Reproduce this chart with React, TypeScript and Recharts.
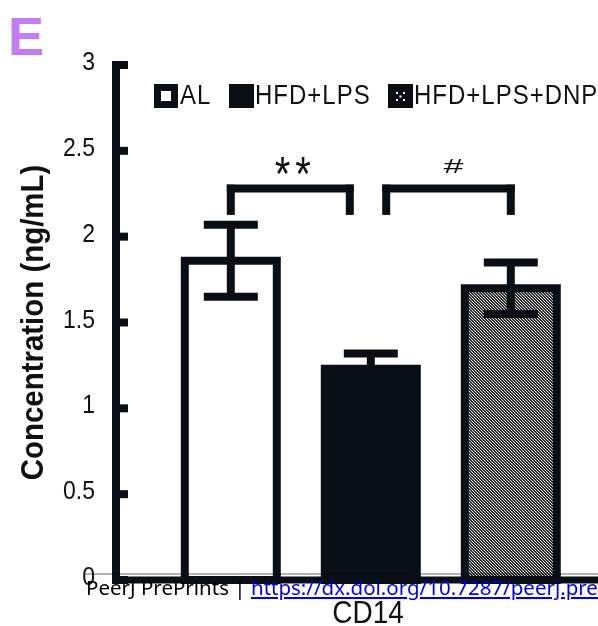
import React from 'react';
import { BarChart, Bar, XAxis, YAxis, ErrorBar, Cell, Legend, ReferenceLine } from 'recharts';

// groups, their slot on the x axis, mean and error
const groups = ['AL', 'HFD+LPS', 'HFD+LPS+DNP'];
const positions = [1, 2, 3];
const means = [1.86, 1.23, 1.7];
const errors = [0.21, 0.09, 0.15];
const yTicks = [0, 0.5, 1, 1.5, 2, 2.5, 3];
const marker = 'CD14';
const yTitle = 'Concentration (ng/mL)';

// significance brackets
const bracketStarts = [1, 2.11];
const bracketEnds = [1.85, 3];
const bracketLabels = ['**', '#'];
const bracketTop = 2.28;
const bracketFoot = 2.15;

const INK = '#0a0f15';
const SANS = '"Liberation Sans", Arial, sans-serif';
const fills = ['#ffffff', INK, 'url(#dots)'];

const rows = groups.map((name, i) => ({
  name,
  pos: positions[i],
  value: means[i],
  err: errors[i],
}));

const renderYTick = (props: any) => {
  const { x, y, payload } = props;
  return (
    <g>
      <line x1={x} x2={x + 12} y1={y} y2={y} stroke={INK} strokeWidth={8} />
      <g transform={`translate(${x - 21},${y + 5}) scale(1,1.15)`}>
        <text textAnchor="end" fontSize={23} fontFamily={SANS} fill="#111">
          {payload.value}
        </text>
      </g>
    </g>
  );
};

const renderYLabel = (props: any) => {
  const vb = props.viewBox;
  const cy = vb.y + vb.height / 2;
  return (
    <g transform={`translate(43,${cy}) rotate(-90) scale(0.95,1)`}>
      <text textAnchor="middle" fontSize={31} fontWeight="bold" fontFamily={SANS} fill="#111">
        {yTitle}
      </text>
    </g>
  );
};

const renderXLabel = (props: any) => {
  const vb = props.viewBox;
  const cx = vb.x + vb.width / 2;
  return (
    <g transform={`translate(${cx},623) scale(1,1.15)`}>
      <text textAnchor="middle" fontSize={28} fontFamily={SANS} fill="#111">
        {marker}
      </text>
    </g>
  );
};

const renderSig = (text: string) => (props: any) => {
  const vb = props.viewBox;
  const cx = vb.x + vb.width / 2;
  if (text === '#') {
    return (
      <g transform={`translate(${cx + 5},${vb.y - 16}) scale(1.8,1)`}>
        <text textAnchor="middle" fontSize={20} fontFamily={SANS} fill="#111">
          {text}
        </text>
      </g>
    );
  }
  return (
    <g transform={`translate(${cx + 5},${vb.y + 1}) scale(1,1.2)`}>
      <text textAnchor="middle" fontSize={40} letterSpacing={5} fontFamily={SANS} fill="#111">
        {text}
      </text>
    </g>
  );
};

const legendX = [154, 229, 388];

const renderLegend = () => (
  <svg width={620} height={120} style={{ display: 'block' }}>
    {groups.map((g, i) => {
      const x = legendX[i];
      let icon;
      if (i === 0) {
        icon = <rect x={x + 3.5} y={87.5} width={17} height={17} fill="#fff" stroke={INK} strokeWidth={7} />;
      } else if (i === 1) {
        icon = <rect x={x} y={84} width={25} height={24} fill={INK} />;
      } else {
        icon = (
          <g>
            <rect x={x} y={84} width={25} height={24} fill={INK} />
            <rect x={x + 8} y={92} width={2} height={2} fill="#fff" />
            <rect x={x + 15} y={92} width={2} height={2} fill="#fff" />
            <rect x={x + 11.5} y={95.5} width={2} height={2} fill="#fff" />
            <rect x={x + 8} y={99} width={2} height={2} fill="#fff" />
            <rect x={x + 15} y={99} width={2} height={2} fill="#fff" />
          </g>
        );
      }
      return (
        <g key={g}>
          {icon}
          <g transform={`translate(${x + 26},104) scale(1,1.18)`}>
            <text fontSize={24} letterSpacing={1} fontFamily={SANS} fill="#111">
              {g}
            </text>
          </g>
        </g>
      );
    })}
  </svg>
);

export default function App() {
  return (
    <div
      style={{
        position: 'absolute',
        left: 0,
        top: 0,
        width: 598,
        height: 626,
        overflow: 'hidden',
        background: '#fff',
      }}
    >
      <BarChart width={620} height={626} data={rows} margin={{ top: 65, right: 0, bottom: 0, left: 0 }}>
        <defs>
          <pattern id="dots" x={0} y={0} width={3} height={3} patternUnits="userSpaceOnUse">
            <rect width={3} height={3} fill="#2a2a2a" />
            <rect x={1} y={1} width={1} height={1} fill="#fff" />
            <rect x={0} y={0} width={1} height={1} fill="#e8e8e8" />
            <rect x={2} y={2} width={1} height={1} fill="#d0d0d0" />
          </pattern>
        </defs>
        <YAxis
          domain={[0, 3]}
          ticks={yTicks}
          interval={0}
          width={116}
          tickSize={0}
          tickMargin={0}
          tickLine={false}
          tick={renderYTick}
          axisLine={{ stroke: INK, strokeWidth: 8, strokeLinecap: 'square' }}
          label={renderYLabel}
        />
        <Bar dataKey="value" barSize={92} stroke={INK} strokeWidth={8} isAnimationActive={false}>
          {rows.map((r, i) => (
            <Cell key={r.name} fill={fills[i]} />
          ))}
          <ErrorBar dataKey="err" width={27} strokeWidth={8} stroke={INK} direction="y" isAnimationActive={false} />
        </Bar>
        <XAxis
          type="number"
          dataKey="pos"
          domain={[0.18, 3.78]}
          ticks={positions}
          tick={false}
          tickLine={false}
          height={46}
          axisLine={{ stroke: INK, strokeWidth: 7, strokeLinecap: 'square' }}
          label={renderXLabel}
        />
        {bracketLabels.map((lab, i) => (
          <React.Fragment key={lab}>
            <ReferenceLine
              segment={[
                { x: bracketStarts[i], y: bracketTop },
                { x: bracketEnds[i], y: bracketTop },
              ]}
              stroke={INK}
              strokeWidth={8}
              strokeLinecap="square"
              label={renderSig(lab)}
            />
            <ReferenceLine
              segment={[
                { x: bracketStarts[i], y: bracketTop },
                { x: bracketStarts[i], y: bracketFoot },
              ]}
              stroke={INK}
              strokeWidth={8}
              strokeLinecap="square"
            />
            <ReferenceLine
              segment={[
                { x: bracketEnds[i], y: bracketTop },
                { x: bracketEnds[i], y: bracketFoot },
              ]}
              stroke={INK}
              strokeWidth={8}
              strokeLinecap="square"
            />
          </React.Fragment>
        ))}
        <Legend
          verticalAlign="middle"
          align="center"
          content={renderLegend}
          wrapperStyle={{ position: 'absolute', left: 0, top: 0, width: 620, height: 120, pointerEvents: 'none' }}
        />
      </BarChart>
      <svg
        width={598}
        height={626}
        style={{ position: 'absolute', left: 0, top: 0, pointerEvents: 'none' }}
      >
        <text x={8} y={55} fontSize={54} fontWeight="bold" fontFamily={SANS} fill="#c47cf4">
          E
        </text>
        <line x1={85} x2={598} y1={574} y2={574} stroke="#b4b4b4" strokeWidth={2} style={{ mixBlendMode: 'multiply' }} />
        <text x={86} y={595} fontSize={20.5} fontFamily='"Noto Sans", sans-serif' fill="#000">
          PeerJ PrePrints |{' '}
          <tspan fill="#0000ee" style={{ textDecoration: 'underline' }}>
            https://dx.doi.org/10.7287/peerj.preprints
          </tspan>
        </text>
      </svg>
    </div>
  );
}
